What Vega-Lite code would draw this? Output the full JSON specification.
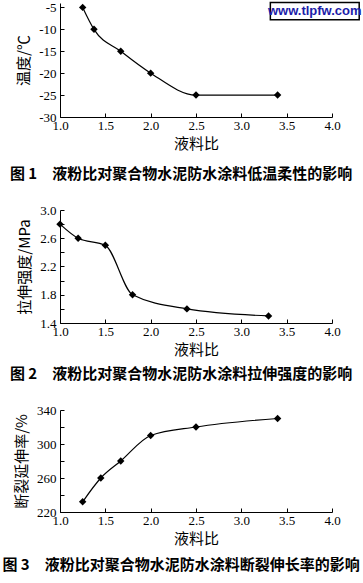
{
  "$schema": "https://vega.github.io/schema/vega-lite/v6.json",
  "padding": {"left": 2, "top": 1, "right": 0, "bottom": 0},
  "background": "white",
  "spacing": 22,
  "datasets": {
    "c1": [{"r": 1.25, "v": -5}, {"r": 1.375, "v": -10}, {"r": 1.67, "v": -15}, {"r": 2.0, "v": -20}, {"r": 2.5, "v": -25}, {"r": 3.4, "v": -25}],
    "c2": [{"r": 1.0, "v": 2.8}, {"r": 1.2, "v": 2.6}, {"r": 1.5, "v": 2.5}, {"r": 1.8, "v": 1.8}, {"r": 2.4, "v": 1.6}, {"r": 3.3, "v": 1.5}],
    "c3": [{"r": 1.25, "v": 232}, {"r": 1.45, "v": 260}, {"r": 1.67, "v": 280}, {"r": 2.0, "v": 310}, {"r": 2.5, "v": 320}, {"r": 3.4, "v": 330}],
    "wm": [{"x1": 3.32, "x2": 4.3, "y1": -3.9, "y2": -7.8, "xm": 3.81, "ym": -5.85, "t": "www.tlpfw.com"}]
  },
  "config": {
    "font": "Liberation Serif",
    "view": {"stroke": null},
    "axis": {
      "grid": false,
      "domainColor": "black",
      "domainWidth": 1,
      "tickColor": "black",
      "tickSize": -4,
      "labelColor": "black",
      "labelFont": "Liberation Serif",
      "labelFontSize": 13,
      "labelOverlap": false,
      "labelFlush": false,
      "labelBound": false,
      "titleFont": "Noto Sans CJK SC",
      "titleFontWeight": "normal",
      "titleFontSize": 15,
      "titleColor": "black"
    },
    "axisX": {"labelPadding": 6, "titlePadding": 4},
    "axisY": {"labelPadding": 8, "titlePadding": 7},
    "title": {"font": "Noto Sans CJK SC", "fontSize": 15, "fontWeight": "bold", "color": "black", "orient": "bottom", "anchor": "middle", "dx": -15}
  },
  "vconcat": [
    {
      "width": 272,
      "height": 114,
      "title": {"text": "图 1　液粉比对聚合物水泥防水涂料低温柔性的影响", "offset": 16},
      "layer": [
        {
          "data": {"name": "c1"},
          "mark": {"type": "line", "interpolate": "monotone", "color": "black", "strokeWidth": 1.2},
          "encoding": {
            "x": {"field": "r", "type": "quantitative", "scale": {"domain": [1, 4]}, "axis": {"title": "液料比", "values": [1, 1.5, 2, 2.5, 3, 3.5, 4], "tickCount": 20, "format": ".1f"}},
            "y": {"field": "v", "type": "quantitative", "scale": {"domain": [-30, -5]}, "axis": {"title": "温度/℃", "values": [-30, -25, -20, -15, -10, -5], "tickCount": 20, "labelExpr": "'' + datum.value"}}
          }
        },
        {
          "data": {"name": "c1"},
          "mark": {"type": "point", "shape": "diamond", "filled": true, "color": "black", "size": 55, "opacity": 1},
          "encoding": {
            "x": {"field": "r", "type": "quantitative"},
            "y": {"field": "v", "type": "quantitative"}
          }
        },
        {
          "data": {"name": "wm"},
          "mark": {"type": "rect", "fill": "white", "stroke": "black", "strokeWidth": 1.5},
          "encoding": {
            "x": {"field": "x1", "type": "quantitative"},
            "x2": {"field": "x2"},
            "y": {"field": "y1", "type": "quantitative"},
            "y2": {"field": "y2"}
          }
        },
        {
          "data": {"name": "wm"},
          "mark": {"type": "text", "font": "Liberation Sans", "fontSize": 13, "fontWeight": "bold", "color": "#1c1ca8", "align": "center", "baseline": "middle"},
          "encoding": {
            "x": {"field": "xm", "type": "quantitative"},
            "y": {"field": "ym", "type": "quantitative"},
            "text": {"field": "t"}
          }
        }
      ]
    },
    {
      "width": 272,
      "height": 113,
      "title": {"text": "图 2　液粉比对聚合物水泥防水涂料拉伸强度的影响", "offset": 10},
      "layer": [
        {
          "data": {"name": "c2"},
          "mark": {"type": "line", "interpolate": "monotone", "color": "black", "strokeWidth": 1.2},
          "encoding": {
            "x": {"field": "r", "type": "quantitative", "scale": {"domain": [1, 4]}, "axis": {"title": "液料比", "values": [1, 1.5, 2, 2.5, 3, 3.5, 4], "tickCount": 20, "format": ".1f"}},
            "y": {"field": "v", "type": "quantitative", "scale": {"domain": [1.4, 3.0]}, "axis": {"title": "拉伸强度/MPa", "values": [1.4, 1.6, 1.8, 2.0, 2.2, 2.4, 2.6, 2.8, 3.0], "tickCount": 20, "format": ".1f", "labelExpr": "round(datum.value * 10) % 4 == 2 ? datum.label : ''"}}
          }
        },
        {
          "data": {"name": "c2"},
          "mark": {"type": "point", "shape": "diamond", "filled": true, "color": "black", "size": 55, "opacity": 1},
          "encoding": {
            "x": {"field": "r", "type": "quantitative"},
            "y": {"field": "v", "type": "quantitative"}
          }
        }
      ]
    },
    {
      "width": 272,
      "height": 102,
      "title": {"text": "图 3　液粉比对聚合物水泥防水涂料断裂伸长率的影响", "offset": 12},
      "layer": [
        {
          "data": {"name": "c3"},
          "mark": {"type": "line", "interpolate": "monotone", "color": "black", "strokeWidth": 1.2},
          "encoding": {
            "x": {"field": "r", "type": "quantitative", "scale": {"domain": [1, 4]}, "axis": {"title": "液料比", "values": [1, 1.5, 2, 2.5, 3, 3.5, 4], "tickCount": 20, "format": ".1f"}},
            "y": {"field": "v", "type": "quantitative", "scale": {"domain": [220, 340]}, "axis": {"title": "断裂延伸率/%", "values": [220, 240, 260, 280, 300, 320, 340], "tickCount": 20, "labelExpr": "datum.value % 40 == 0 ? '' : datum.label"}}
          }
        },
        {
          "data": {"name": "c3"},
          "mark": {"type": "point", "shape": "diamond", "filled": true, "color": "black", "size": 55, "opacity": 1},
          "encoding": {
            "x": {"field": "r", "type": "quantitative"},
            "y": {"field": "v", "type": "quantitative"}
          }
        }
      ]
    }
  ]
}
